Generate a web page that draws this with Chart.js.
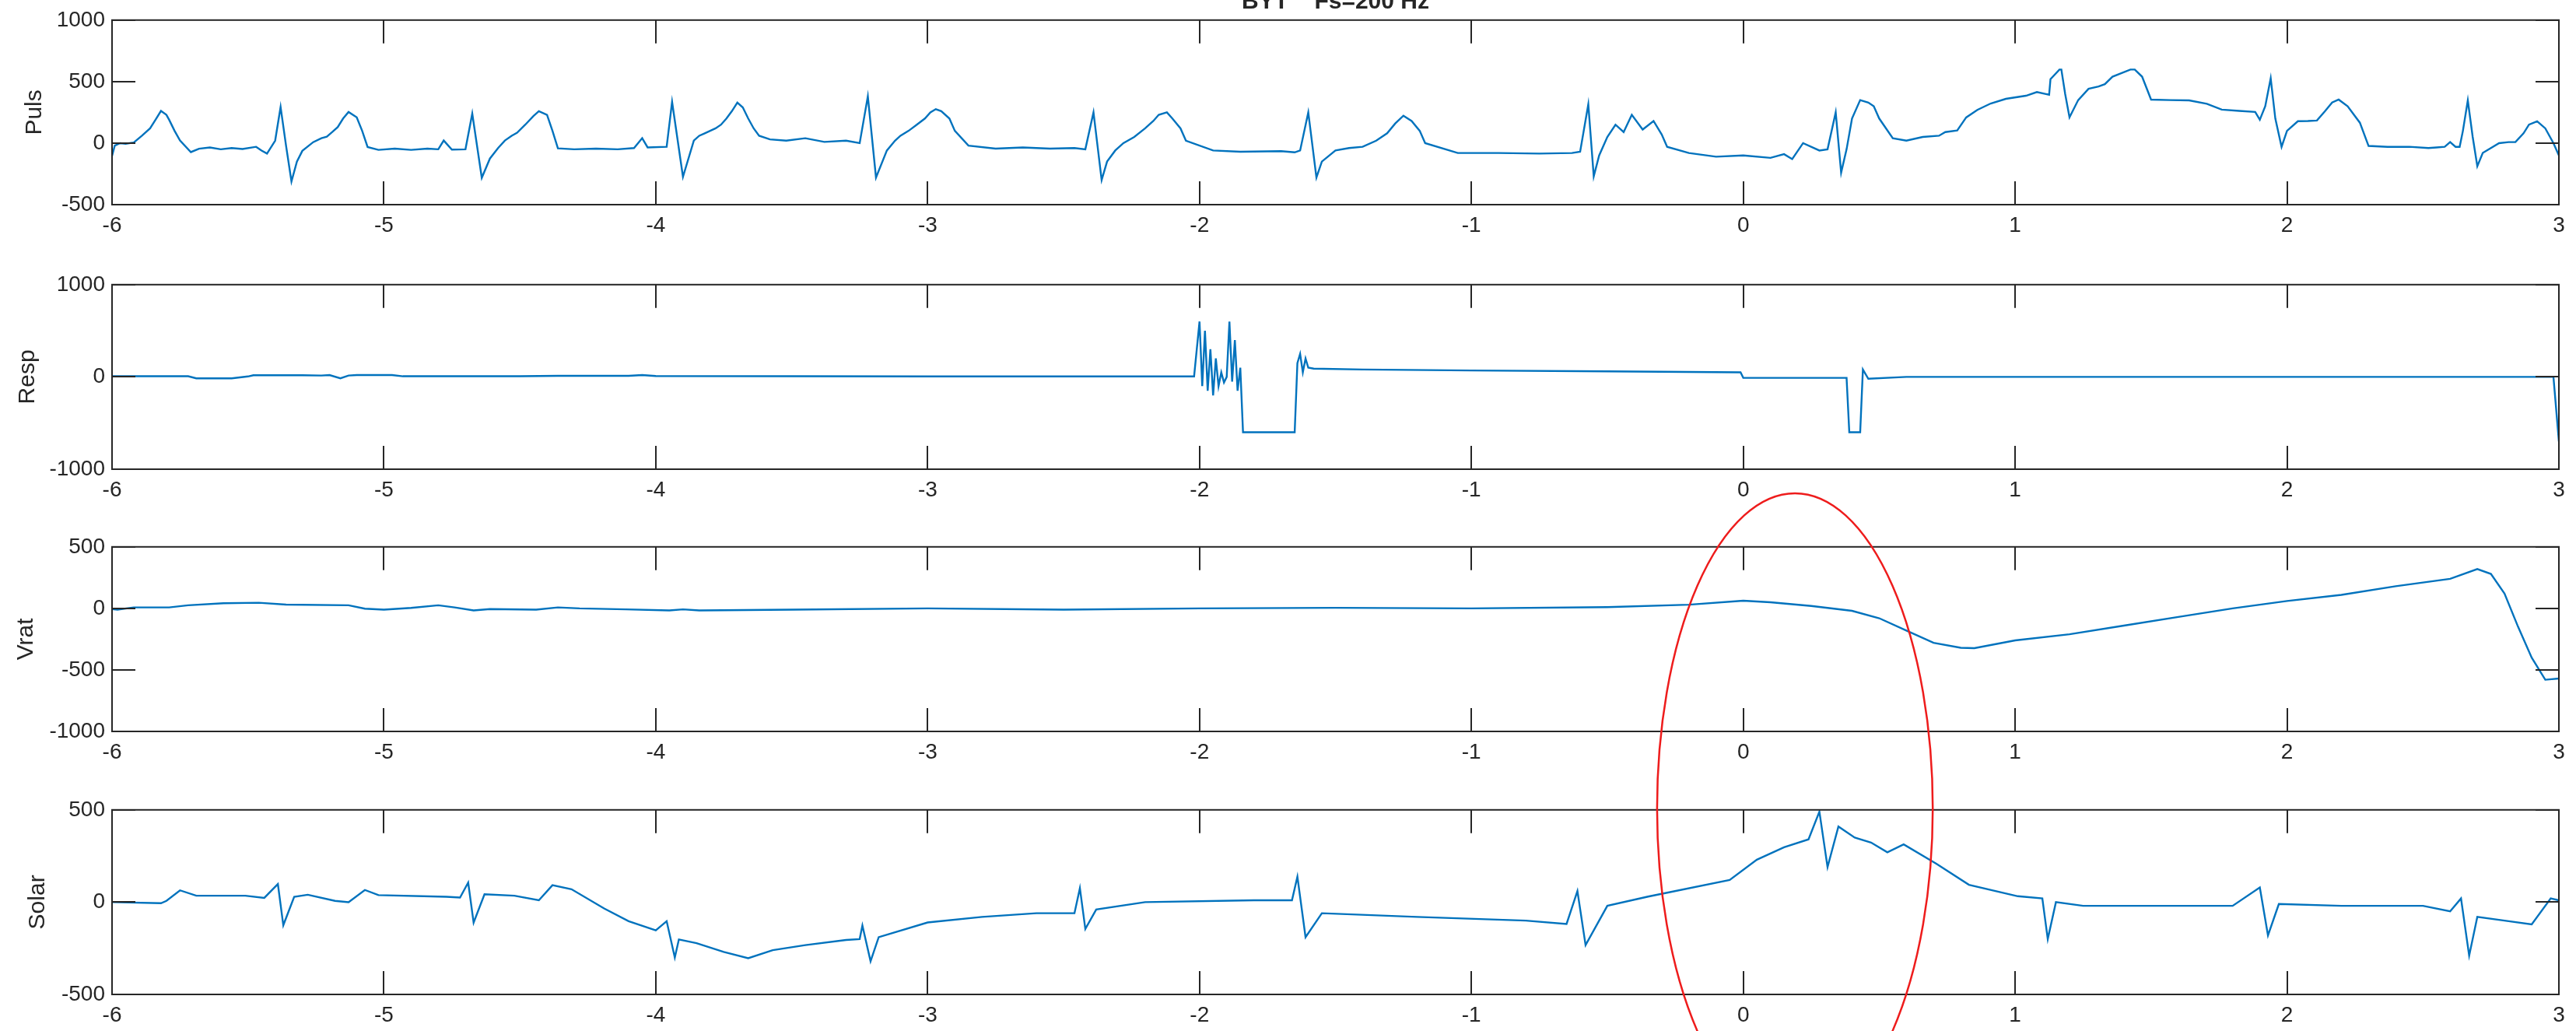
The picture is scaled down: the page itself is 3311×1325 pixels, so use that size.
<!DOCTYPE html>
<html>
<head>
<meta charset="utf-8">
<script src="https://cdn.jsdelivr.net/npm/chart.js@4.4.1/dist/chart.umd.min.js"></script>
<style>
  html, body { margin: 0; padding: 0; background: #fff; overflow: hidden; }
  #page { position: relative; width: 3311px; height: 1325px; }
  .panel { position: absolute; left: 0; }
  #overlay { position: absolute; left: 0; top: 0; pointer-events: none; }
</style>
</head>
<body>
<div id="page">
  <canvas id="cPuls" class="panel" width="3311" height="310" style="top:0px"></canvas>
  <canvas id="cResp" class="panel" width="3311" height="310" style="top:340px"></canvas>
  <canvas id="cVrat" class="panel" width="3311" height="310" style="top:677px"></canvas>
  <canvas id="cSolar" class="panel" width="3311" height="310" style="top:1015px"></canvas>
  <canvas id="overlay" width="3311" height="1325"></canvas>
</div>
<script>
// ---- time axis ticks (seconds) ----
const timeTicks = [-6, -5, -4, -3, -2, -1, 0, 1, 2, 3];
const titleText = 'BYT    Fs=200 Hz';

// ---- Puls ----
const pulsT = [-6.00,-5.99,-5.97,-5.95,-5.92,-5.89,-5.86,-5.84,-5.82,-5.80,-5.79,-5.77,-5.75,-5.71,-5.68,-5.64,-5.60,-5.56,-5.52,-5.47,-5.45,-5.43,-5.40,-5.38,-5.36,-5.34,-5.32,-5.30,-5.26,-5.23,-5.21,-5.19,-5.17,-5.15,-5.13,-5.10,-5.08,-5.06,-5.02,-4.96,-4.90,-4.84,-4.80,-4.78,-4.75,-4.70,-4.675,-4.64,-4.61,-4.58,-4.555,-4.53,-4.51,-4.48,-4.45,-4.43,-4.40,-4.38,-4.36,-4.30,-4.22,-4.14,-4.08,-4.05,-4.03,-3.96,-3.94,-3.90,-3.86,-3.84,-3.82,-3.80,-3.78,-3.76,-3.74,-3.72,-3.70,-3.68,-3.66,-3.64,-3.62,-3.58,-3.52,-3.45,-3.38,-3.30,-3.25,-3.22,-3.19,-3.15,-3.12,-3.10,-3.07,-3.04,-3.01,-2.99,-2.97,-2.95,-2.92,-2.90,-2.85,-2.75,-2.65,-2.55,-2.46,-2.42,-2.39,-2.36,-2.34,-2.31,-2.28,-2.24,-2.20,-2.17,-2.15,-2.12,-2.10,-2.07,-2.05,-1.95,-1.85,-1.70,-1.65,-1.63,-1.60,-1.57,-1.55,-1.50,-1.45,-1.40,-1.35,-1.31,-1.28,-1.25,-1.22,-1.19,-1.17,-1.05,-0.90,-0.75,-0.63,-0.60,-0.57,-0.55,-0.53,-0.50,-0.47,-0.44,-0.41,-0.37,-0.33,-0.30,-0.28,-0.20,-0.10,0.00,0.10,0.15,0.18,0.22,0.28,0.31,0.34,0.36,0.38,0.40,0.43,0.46,0.48,0.50,0.55,0.60,0.66,0.72,0.743,0.787,0.82,0.861,0.91,0.966,1.04,1.08,1.11,1.125,1.13,1.163,1.17,1.184,1.20,1.232,1.27,1.307,1.33,1.358,1.424,1.44,1.467,1.50,1.57,1.64,1.705,1.76,1.824,1.883,1.90,1.92,1.94,1.957,1.98,2.0,2.04,2.077,2.11,2.14,2.166,2.19,2.223,2.268,2.30,2.37,2.45,2.52,2.55,2.58,2.60,2.62,2.635,2.647,2.665,2.683,2.70,2.72,2.78,2.815,2.84,2.87,2.89,2.92,2.95,2.98,3.0];
const pulsV = [-105,-20,0,-5,5,60,120,190,262,230,190,100,21,-73,-45,-35,-50,-40,-48,-30,-60,-85,20,293,-20,-312,-150,-63,8,40,52,90,130,200,253,210,100,-32,-55,-45,-55,-45,-50,21,-53,-50,240,-282,-125,-40,21,60,84,150,220,260,230,100,-42,-50,-45,-50,-40,40,-35,-30,335,-274,21,60,80,100,120,150,200,260,330,290,200,120,60,30,20,40,10,20,0,380,-280,-60,20,60,100,150,200,250,276,260,200,100,-20,-45,-35,-45,-40,-50,250,-300,-150,-60,0,50,120,180,230,250,200,120,20,-60,-70,-65,-75,-60,250,-280,-150,-60,-40,-30,20,80,160,223,180,100,0,-80,-80,-85,-80,-70,316,-270,-100,50,150,90,230,110,180,70,-30,-80,-110,-100,-120,-90,-130,0,-60,-50,250,-240,-50,200,350,330,300,200,40,20,50,60,90,103,209,270,322,360,385,415,400,393,520,598,598,400,209,350,441,460,479,540,598,598,540,354,350,347,320,272,262,253,190,300,527,200,-30,100,178,180,184,260,330,354,300,166,-23,-30,-30,-40,-35,-30,8,-30,-30,100,347,50,-188,-80,0,8,8,80,150,178,120,0,-100,-155];

// ---- Resp ----
const respT = [-6,-5.72,-5.69,-5.56,-5.50,-5.48,-5.30,-5.23,-5.20,-5.16,-5.13,-5.10,-4.97,-4.93,-4.50,-4.36,-4.10,-4.05,-4.0,-3.0,-2.02,-2.0,-1.99,-1.98,-1.97,-1.96,-1.95,-1.94,-1.93,-1.92,-1.91,-1.90,-1.89,-1.88,-1.87,-1.86,-1.85,-1.84,-1.65,-1.64,-1.63,-1.62,-1.61,-1.60,-1.58,-1.4,-1.0,-0.5,-0.01,0.0,0.3,0.38,0.39,0.43,0.44,0.46,0.6,1.0,2.0,2.98,3.0];
const respV = [7,7,-15,-15,5,18,18,15,20,-15,15,20,20,7,7,12,12,20,10,5,5,600,-100,500,-150,300,-200,200,-100,50,-60,0,600,-50,400,-150,100,-600,-600,150,250,50,200,100,90,80,70,60,50,-10,-10,-10,-600,-600,80,-20,0,0,0,0,-700];

// ---- Vrat ----
const vratT = [-6,-5.98,-5.92,-5.79,-5.72,-5.59,-5.46,-5.36,-5.13,-5.07,-5.0,-4.90,-4.80,-4.74,-4.67,-4.61,-4.44,-4.36,-4.28,-4.11,-3.95,-3.90,-3.84,-3.5,-3.0,-2.5,-2.0,-1.5,-1.0,-0.5,-0.2,0.0,0.1,0.25,0.4,0.5,0.6,0.7,0.8,0.85,1.0,1.2,1.4,1.6,1.8,2.0,2.2,2.4,2.6,2.7,2.75,2.8,2.85,2.9,2.95,3.0];
const vratV = [-6,-10,8,8,25,42,46,31,25,-2,-10,4,25,8,-17,-6,-10,8,0,-8,-17,-8,-17,-10,0,-10,0,5,0,10,30,62,50,20,-20,-80,-180,-280,-320,-323,-260,-210,-140,-70,0,60,110,180,240,320,280,120,-150,-400,-580,-570];

// ---- Solar ----
const solarT = [-6,-5.82,-5.80,-5.75,-5.69,-5.51,-5.44,-5.39,-5.37,-5.33,-5.28,-5.18,-5.13,-5.07,-5.02,-4.77,-4.72,-4.69,-4.67,-4.63,-4.52,-4.43,-4.38,-4.31,-4.19,-4.10,-4.00,-3.96,-3.93,-3.915,-3.85,-3.75,-3.66,-3.57,-3.45,-3.30,-3.25,-3.24,-3.21,-3.18,-3.00,-2.80,-2.60,-2.46,-2.44,-2.42,-2.38,-2.20,-1.80,-1.66,-1.64,-1.61,-1.55,-1.20,-0.80,-0.65,-0.61,-0.58,-0.50,-0.35,-0.05,0.05,0.15,0.24,0.28,0.31,0.35,0.41,0.47,0.53,0.59,0.71,0.83,1.01,1.10,1.12,1.15,1.25,1.5,1.8,1.90,1.93,1.97,2.2,2.5,2.6,2.64,2.67,2.70,2.8,2.9,2.97,3.0];
const solarV = [0,-6,7,64,35,35,23,98,-125,29,40,7,0,66,38,29,25,106,-111,43,35,10,92,70,-34,-103,-153,-103,-300,-202,-222,-270,-304,-260,-233,-205,-200,-127,-320,-190,-110,-80,-60,-60,76,-145,-40,0,10,10,138,-190,-60,-80,-100,-118,60,-233,-20,30,120,230,297,340,490,190,410,350,323,270,313,208,94,32,20,-200,0,-20,-20,-20,80,-180,-10,-20,-20,-50,20,-290,-80,-100,-120,20,10];

const FONT = "'Liberation Sans', Arial, Helvetica, sans-serif";
const INK = '#262626';
const LINE = '#0072BD';

// Box around the plot area with inward tick marks on all four sides.
const boxPlugin = {
  id: 'box',
  afterDraw(chart) {
    const { ctx, chartArea: a, scales } = chart;
    const tl = 30;
    ctx.save();
    ctx.strokeStyle = INK;
    ctx.lineWidth = 2;
    ctx.strokeRect(a.left, a.top, a.right - a.left, a.bottom - a.top);
    ctx.beginPath();
    scales.x.ticks.forEach(t => {
      const px = Math.round(scales.x.getPixelForValue(t.value));
      ctx.moveTo(px, a.top); ctx.lineTo(px, a.top + tl);
      ctx.moveTo(px, a.bottom); ctx.lineTo(px, a.bottom - tl);
    });
    scales.y.ticks.forEach(t => {
      const py = Math.round(scales.y.getPixelForValue(t.value));
      ctx.moveTo(a.left, py); ctx.lineTo(a.left + tl, py);
      ctx.moveTo(a.right, py); ctx.lineTo(a.right - tl, py);
    });
    ctx.stroke();
    const title = chart.options.plugins.figTitle;
    if (title && title.text) {
      ctx.fillStyle = INK;
      ctx.font = 'bold 30px ' + FONT;
      ctx.textAlign = 'center';
      ctx.textBaseline = 'alphabetic';
      ctx.fillText(title.text, (a.left + a.right) / 2, title.baseline);
    }
    ctx.restore();
  }
};

function makePanel(id, label, ts, vs, yMin, yMax, yStep, padLeft, titleObj) {
  const pts = ts.map((t, i) => ({ x: t, y: vs[i] }));
  return new Chart(document.getElementById(id), {
    type: 'line',
    data: { datasets: [{ data: pts, borderColor: LINE, borderWidth: 2.4, pointRadius: 0, tension: 0, fill: false }] },
    options: {
      responsive: false,
      animation: false,
      events: [],
      layout: { padding: { left: padLeft, right: 22, top: 24, bottom: 0 } },
      plugins: { legend: { display: false }, tooltip: { enabled: false }, figTitle: titleObj || null },
      scales: {
        x: {
          type: 'linear', min: -6, max: 3,
          afterBuildTicks(s) { s.ticks = timeTicks.map(v => ({ value: v })); },
          ticks: { font: { family: FONT, size: 28 }, color: INK, padding: 10, maxRotation: 0, autoSkip: false,
                   callback: v => String(v) },
          grid: { display: false, drawTicks: false },
          border: { display: false },
          afterFit(s) { s.height = 47; }
        },
        y: {
          type: 'linear', min: yMin, max: yMax,
          ticks: { stepSize: yStep, font: { family: FONT, size: 28 }, color: INK, padding: 9,
                   callback: v => String(v) },
          grid: { display: false, drawTicks: false },
          border: { display: false },
          title: { display: true, text: label, color: INK, font: { family: FONT, size: 30 }, padding: { top: 0, bottom: 0 } },
          afterFit(s) { s.width = 144 - padLeft; }
        }
      }
    },
    plugins: [boxPlugin]
  });
}

const chPuls = makePanel('cPuls', 'Puls', pulsT, pulsV, -500, 1000, 500, 27, { text: titleText, baseline: 11 });
const chResp = makePanel('cResp', 'Resp', respT, respV, -1000, 1000, 1000, 18);
const chVrat = makePanel('cVrat', 'Vrat', vratT, vratV, -1000, 500, 500, 16);
const chSolar = makePanel('cSolar', 'Solar', solarT, solarV, -500, 500, 500, 31);

// Red ellipse marking the event around t = 0 across the lower panels.
(function drawEllipse() {
  const ov = document.getElementById('overlay');
  const ctx = ov.getContext('2d');
  const xs = chVrat.scales.x;
  const cx = xs.getPixelForValue(0.19);
  const rx = xs.getPixelForValue(0.19 + 0.507) - cx;
  ctx.strokeStyle = '#ee1c1c';
  ctx.lineWidth = 2.5;
  ctx.beginPath();
  ctx.ellipse(cx, 1039, rx, 405, 0, 0, Math.PI * 2);
  ctx.stroke();
})();
</script>
</body>
</html>
